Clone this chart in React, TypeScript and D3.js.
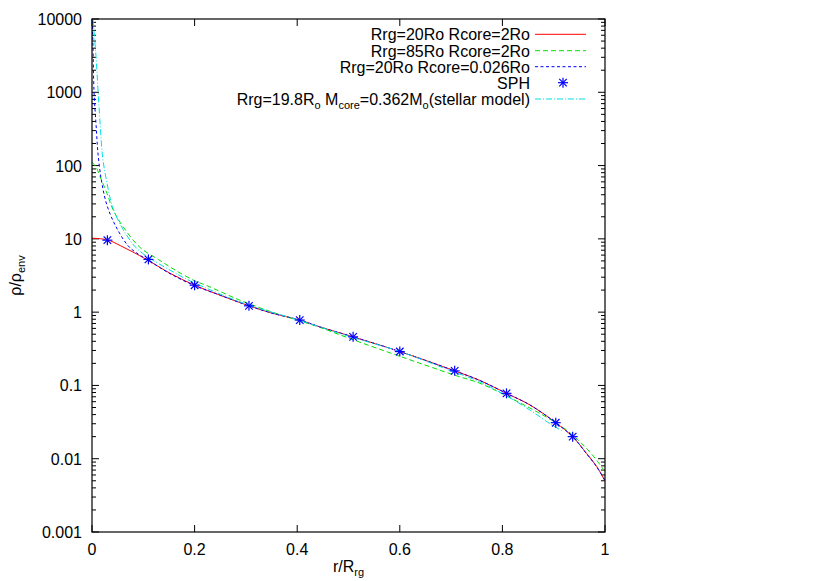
import React from 'react';
import * as d3 from 'd3';

const width = 830;
const height = 581;
const margin = { top: 19, right: 225, bottom: 49, left: 92 };

// data (x = r/Rrg, y = rho/rho_env)
const redX = [0, 0.03, 0.055, 0.08, 0.107, 0.152, 0.2, 0.25, 0.306, 0.353, 0.405, 0.444, 0.509, 0.6, 0.707, 0.756, 0.808, 0.854, 0.904, 0.937, 0.964, 0.984, 1.0];
const redY = [10.2, 9.7, 8.1, 6.6, 5.2, 3.4, 2.33, 1.7, 1.22, 0.96, 0.78, 0.63, 0.46, 0.29, 0.158, 0.117, 0.078, 0.054, 0.031, 0.02, 0.0118, 0.0078, 0.005];

const greenX = [0, 0.008, 0.016, 0.029, 0.041, 0.061, 0.094, 0.13, 0.158, 0.2, 0.224, 0.288, 0.353, 0.405, 0.444, 0.509, 0.6, 0.707, 0.756, 0.808, 0.904, 0.937, 0.964, 0.984, 1.0];
const greenY = [112, 95, 70, 42, 25, 14.5, 7.6, 5.2, 3.9, 2.68, 2.3, 1.46, 0.99, 0.76, 0.62, 0.42, 0.25, 0.138, 0.107, 0.072, 0.031, 0.021, 0.0138, 0.0095, 0.0066];

const blueX = [0.0005, 0.002, 0.004, 0.008, 0.012, 0.019, 0.029, 0.045, 0.07, 0.09, 0.11, 0.152, 0.2, 0.25, 0.306, 0.353, 0.405, 0.444, 0.509, 0.6, 0.707, 0.756, 0.808, 0.854, 0.904, 0.937, 0.964, 0.984, 1.0];
const blueY = [9500, 4000, 1000, 355, 138, 59, 29, 15.5, 8.1, 6.2, 5.1, 3.35, 2.3, 1.7, 1.22, 0.96, 0.78, 0.63, 0.46, 0.29, 0.158, 0.117, 0.078, 0.054, 0.031, 0.0199, 0.0117, 0.0077, 0.005];

const cyanX = [0.002, 0.008, 0.012, 0.016, 0.021, 0.029, 0.041, 0.064, 0.09, 0.158, 0.2, 0.3, 0.4, 0.5, 0.6, 0.7, 0.756, 0.808, 0.854, 0.896, 0.919];
const cyanY = [9800, 2950, 1000, 355, 126, 59, 26, 12.3, 7.1, 3.55, 2.5, 1.29, 0.79, 0.47, 0.29, 0.158, 0.112, 0.072, 0.046, 0.029, 0.0234];

const sphX = [0.03, 0.11, 0.2, 0.306, 0.405, 0.509, 0.6, 0.707, 0.808, 0.904, 0.937];
const sphY = [9.6, 5.24, 2.33, 1.22, 0.78, 0.46, 0.29, 0.158, 0.078, 0.031, 0.02];

const xTicks = [0, 0.2, 0.4, 0.6, 0.8, 1];
const xTickLabels = ['0', '0.2', '0.4', '0.6', '0.8', '1'];
const yTicks = [0.001, 0.01, 0.1, 1, 10, 100, 1000, 10000];
const yTickLabels = ['0.001', '0.01', '0.1', '1', '10', '100', '1000', '10000'];

const font = '"Liberation Sans", Arial, Helvetica, sans-serif';

const x = d3.scaleLinear().domain([0, 1]).range([margin.left, width - margin.right]);
const y = d3.scaleLog().domain([0.001, 10000]).range([height - margin.bottom, margin.top]);

const line = d3.line<[number, number]>()
  .x(d => x(d[0]))
  .y(d => y(d[1]))
  .curve(d3.curveCatmullRom.alpha(0.5));

const zip = (xs: number[], ys: number[]) => xs.map((v, i) => [v, ys[i]] as [number, number]);

const series = [
  { label: 'red', xs: redX, ys: redY, color: '#ff0000', dash: '' },
  { label: 'green', xs: greenX, ys: greenY, color: '#00e000', dash: '5,3' },
  { label: 'blue', xs: blueX, ys: blueY, color: '#0000ff', dash: '3,2.5' },
  { label: 'cyan', xs: cyanX, ys: cyanY, color: '#00e0e0', dash: '6,2,1,2' },
];

// minor ticks 2..9 in every decade
const minorTicks: number[] = [];
yTicks.slice(0, -1).forEach(d => {
  for (let m = 2; m <= 9; m++) minorTicks.push(m * d);
});

const Star = ({ cx, cy, color }: { cx: number; cy: number; color: string }) => {
  const r = 5;
  const q = r * 0.75;
  return (
    <g stroke={color} strokeWidth={1.2}>
      <line x1={cx - r} y1={cy} x2={cx + r} y2={cy} />
      <line x1={cx} y1={cy - r} x2={cx} y2={cy + r} />
      <line x1={cx - q} y1={cy - q} x2={cx + q} y2={cy + q} />
      <line x1={cx - q} y1={cy + q} x2={cx + q} y2={cy - q} />
    </g>
  );
};

const App = () => {
  const left = margin.left;
  const right = width - margin.right;
  const top = margin.top;
  const bottom = height - margin.bottom;

  // legend
  const legX = 530;
  const legY = [34.3, 50.7, 66.7, 82.7, 99];
  const sub = { fontSize: 11 };

  return (
    <svg width={width} height={height} style={{ position: 'absolute', left: 0, top: 0, background: '#fff' }}
      fontFamily={font} fontSize={16}>
      <defs>
        <clipPath id="plot">
          <rect x={left} y={top} width={right - left} height={bottom - top} />
        </clipPath>
      </defs>

      {/* x ticks, bottom and top */}
      {xTicks.map((t, i) => (
        <g key={'x' + t}>
          <line x1={x(t)} x2={x(t)} y1={bottom} y2={bottom - 7} stroke="#000" />
          <line x1={x(t)} x2={x(t)} y1={top} y2={top + 7} stroke="#000" />
          <text x={x(t)} y={555} textAnchor="middle">{xTickLabels[i]}</text>
        </g>
      ))}

      {/* y ticks, left and right */}
      {yTicks.map((t, i) => (
        <g key={'y' + t}>
          <line x1={left} x2={left + 7} y1={y(t)} y2={y(t)} stroke="#000" />
          <line x1={right} x2={right - 7} y1={y(t)} y2={y(t)} stroke="#000" />
          <text x={82} y={y(t) + 6} textAnchor="end">{yTickLabels[i]}</text>
        </g>
      ))}
      {minorTicks.map(t => (
        <g key={'m' + t}>
          <line x1={left} x2={left + 4} y1={y(t)} y2={y(t)} stroke="#000" />
          <line x1={right} x2={right - 4} y1={y(t)} y2={y(t)} stroke="#000" />
        </g>
      ))}

      {/* axis titles */}
      <text x={(left + right) / 2} y={572} textAnchor="middle">
        r/R<tspan dy={4} style={sub}>rg</tspan>
      </text>
      <text transform={`translate(21, ${(top + bottom) / 2}) rotate(-90)`} textAnchor="middle">
        ρ/ρ<tspan dy={4} style={sub}>env</tspan>
      </text>

      {/* curves */}
      <g clipPath="url(#plot)" fill="none">
        {series.map(s => (
          <path key={s.label} d={line(zip(s.xs, s.ys)) || ''} stroke={s.color} strokeWidth={1}
            strokeDasharray={s.dash || undefined} />
        ))}
        {sphX.map((v, i) => (
          <Star key={'s' + i} cx={x(v)} cy={y(sphY[i])} color="#0000ff" />
        ))}
      </g>

      {/* legend */}
      <g>
        <text x={legX} y={legY[0] + 6} textAnchor="end">Rrg=20Ro Rcore=2Ro</text>
        <line x1={535} x2={586} y1={legY[0]} y2={legY[0]} stroke="#ff0000" />
        <text x={legX} y={legY[1] + 6} textAnchor="end">Rrg=85Ro Rcore=2Ro</text>
        <line x1={535} x2={586} y1={legY[1]} y2={legY[1]} stroke="#00e000" strokeDasharray="5,3" />
        <text x={legX} y={legY[2] + 6} textAnchor="end">Rrg=20Ro Rcore=0.026Ro</text>
        <line x1={535} x2={586} y1={legY[2]} y2={legY[2]} stroke="#0000ff" strokeDasharray="3,2.5" />
        <text x={legX} y={legY[3] + 6} textAnchor="end">SPH</text>
        <Star cx={563} cy={legY[3]} color="#0000ff" />
        <text x={legX} y={legY[4] + 6} textAnchor="end">
          Rrg=19.8R<tspan dy={4} style={sub}>o</tspan>
          <tspan dy={-4}> M</tspan><tspan dy={4} style={sub}>core</tspan>
          <tspan dy={-4}>=0.362M</tspan><tspan dy={4} style={sub}>o</tspan>
          <tspan dy={-4}>(stellar model)</tspan>
        </text>
        <line x1={535} x2={586} y1={legY[4]} y2={legY[4]} stroke="#00e0e0" strokeDasharray="6,2,1,2" />
      </g>

      {/* frame */}
      <rect x={left} y={top} width={right - left} height={bottom - top} fill="none" stroke="#000" strokeWidth={1.2} />
    </svg>
  );
};

export default App;
